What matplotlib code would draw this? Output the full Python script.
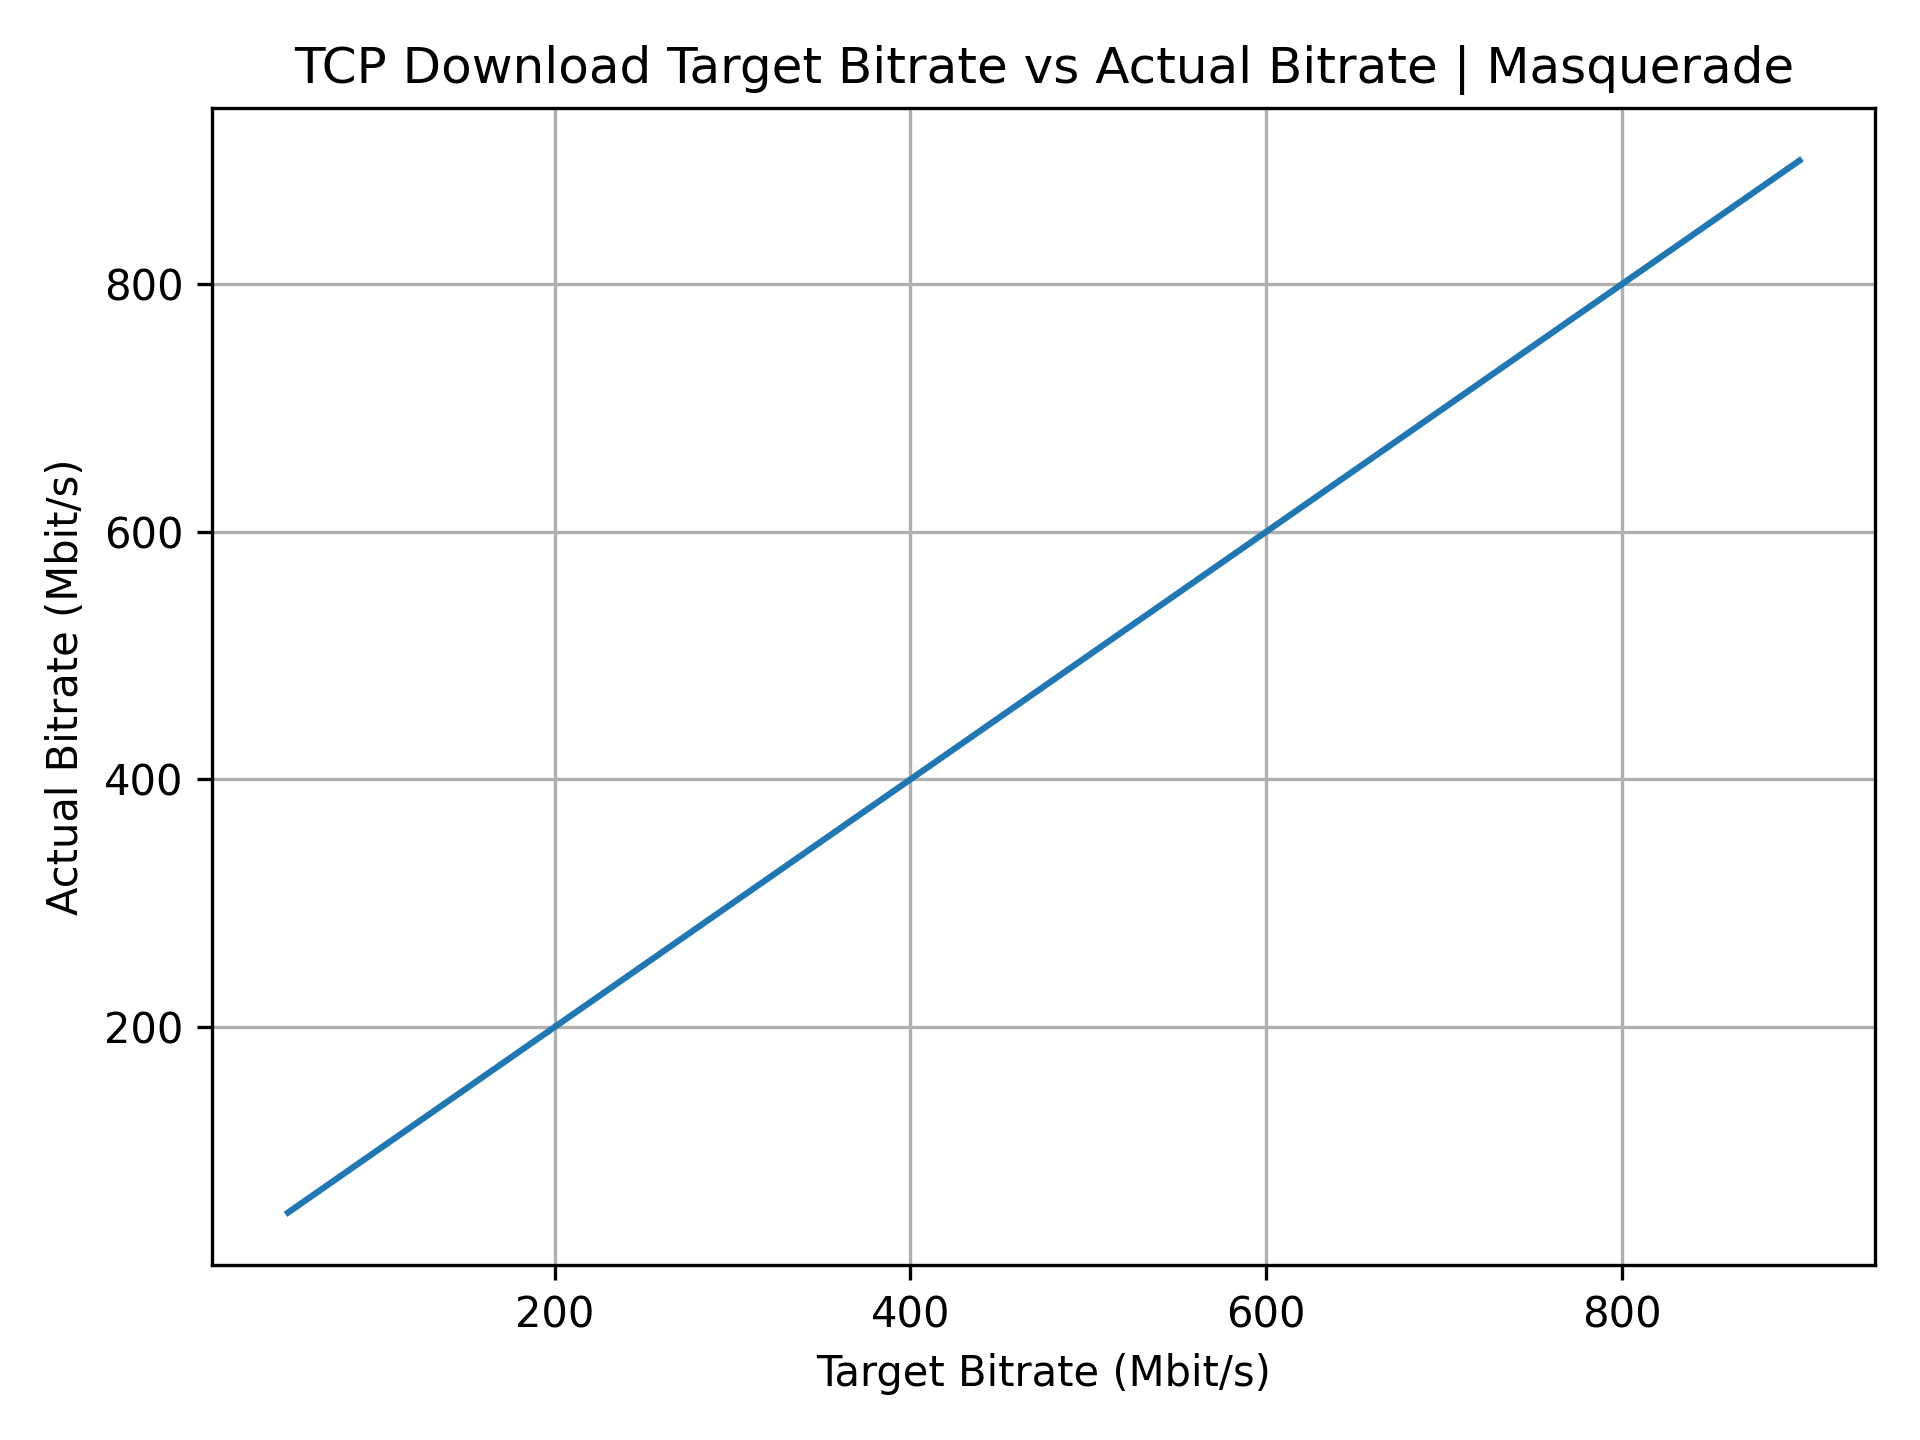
import matplotlib
matplotlib.use("Agg")
import matplotlib.pyplot as plt

target = [50, 100, 150, 200, 250, 300, 350, 400, 450, 500, 550, 600, 650, 700, 750, 800, 850, 900]
actual = [50, 100, 150, 200, 250, 300, 350, 400, 450, 500, 550, 600, 650, 700, 750, 800, 850, 900]

fig, ax = plt.subplots(figsize=(6.4, 4.8), dpi=300)
ax.plot(target, actual, color="#1f77b4")
ax.set_title("TCP Download Target Bitrate vs Actual Bitrate | Masquerade")
ax.set_xlabel("Target Bitrate (Mbit/s)")
ax.set_ylabel("Actual Bitrate (Mbit/s)")
ax.grid(True)
fig.tight_layout()
fig.savefig("out.png", dpi=300)
